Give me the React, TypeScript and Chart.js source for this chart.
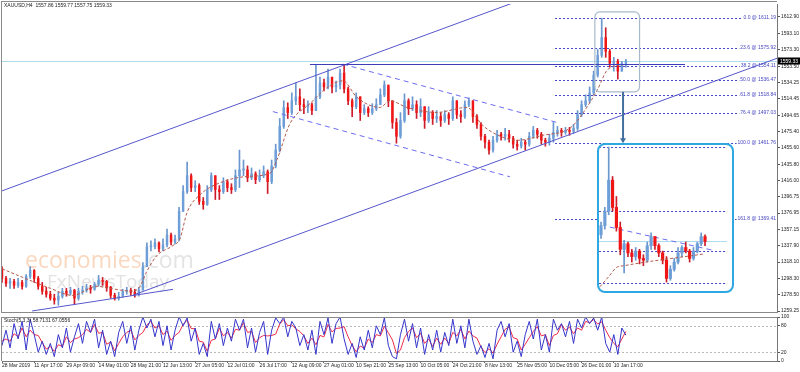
import React, { useEffect, useRef } from 'react';
import { Chart, registerables } from 'chart.js';

Chart.register(...registerables);

// ------------------------------------------------------------------ data
const SYMBOL_HEADER = 'XAUUSD,H4  1557.86 1559.77 1557.75 1559.33';
const STOCH_HEADER = 'Stoch(5,3,3) 58.7131 67.0556';
const WATERMARK = ['economies', '.com', 'FxNewsToday'];

const TIME_LABELS = [
  '28 Mar 2019', '11 Apr 17:00', '29 Apr 09:00', '14 May 01:00', '28 May 21:00',
  '12 Jun 13:00', '27 Jun 05:00', '12 Jul 01:00', '26 Jul 17:00', '12 Aug 09:00',
  '27 Aug 01:00', '10 Sep 21:00', '25 Sep 13:00', '10 Oct 05:00', '24 Oct 21:00',
  '8 Nov 13:00', '25 Nov 05:00', '10 Dec 05:00', '26 Dec 01:00', '10 Jan 17:00',
];
const LABEL_EVERY = 8; // bars between time labels
const X_MAX = 192.55; // visible bar slots

const Y_TICKS = [
  1612.9, 1593.1, 1573.3, 1553.5, 1534.25, 1514.45, 1494.65, 1475.4, 1455.6, 1435.8,
  1416.0, 1396.75, 1376.95, 1357.15, 1337.9, 1318.1, 1298.3, 1278.5, 1259.25,
];
const PRICE_MIN = 1258.06;
const PRICE_MAX = 1628.33;
const LAST_PRICE = 1559.33;

const OPEN0 = 1310;
const CLOSE = [
  1298.4, 1292.5, 1294.8, 1290.1, 1293.6, 1288.9, 1300.8, 1307.9, 1298.4, 1288.9,
  1283.0, 1279.4, 1274.7, 1272.3, 1277.0, 1283.0, 1280.6, 1284.1, 1274.7, 1283.0,
  1284.1, 1286.5, 1285.4, 1291.3, 1296.0, 1294.8, 1287.7, 1278.2, 1274.7, 1277.0,
  1283.0, 1284.1, 1281.8, 1279.4, 1284.1, 1312.6, 1336.4, 1336.4, 1341.1, 1334.0,
  1338.8, 1350.6, 1342.3, 1345.9, 1379.1, 1402.8, 1421.9, 1407.6, 1410.0, 1391.0,
  1387.4, 1405.2, 1421.9, 1405.2, 1402.8, 1414.7, 1407.6, 1405.2, 1421.9, 1428.9,
  1428.9, 1419.5, 1424.2, 1417.1, 1421.9, 1426.6, 1414.7, 1433.7, 1452.7, 1481.2,
  1503.7, 1497.8, 1512.0, 1516.8, 1507.3, 1504.9, 1507.3, 1500.2, 1516.8, 1533.4,
  1528.6, 1540.5, 1528.6, 1531.0, 1545.3, 1526.3, 1512.0, 1504.9, 1516.8, 1497.8,
  1502.5, 1497.8, 1502.5, 1507.3, 1519.1, 1531.0, 1512.0, 1485.9, 1469.3, 1488.3,
  1512.0, 1502.5, 1507.3, 1497.8, 1504.9, 1488.3, 1497.8, 1490.7, 1493.0, 1488.3,
  1495.4, 1490.7, 1512.0, 1495.4, 1493.0, 1507.3, 1512.0, 1493.0, 1483.5, 1469.3,
  1462.2, 1452.7, 1464.6, 1471.7, 1469.3, 1471.7, 1466.9, 1459.8, 1457.4, 1462.2,
  1459.8, 1469.3, 1476.4, 1471.7, 1464.6, 1462.2, 1466.9, 1474.0, 1476.4, 1474.0,
  1476.4, 1475.2, 1478.8, 1495.4, 1507.3, 1512.0, 1521.5, 1542.9, 1566.6, 1588.0,
  1571.4, 1557.1, 1559.5, 1547.6, 1557.1, 1559.33,
];
const HIGH = [
  1312.6, 1300.8, 1298.4, 1297.2, 1298.4, 1296.0, 1303.1, 1312.6, 1309.1, 1300.8,
  1293.6, 1287.7, 1283.0, 1279.4, 1281.8, 1286.5, 1286.5, 1287.7, 1285.4, 1286.5,
  1288.9, 1291.3, 1290.1, 1293.6, 1302.0, 1299.6, 1296.0, 1288.9, 1280.6, 1281.8,
  1285.4, 1287.7, 1286.5, 1285.4, 1287.7, 1317.4, 1341.1, 1343.5, 1345.9, 1342.3,
  1345.9, 1357.7, 1353.0, 1350.6, 1383.8, 1410.0, 1438.4, 1424.2, 1415.9, 1412.3,
  1395.7, 1410.0, 1425.4, 1421.9, 1410.0, 1419.5, 1417.1, 1412.3, 1428.9, 1452.7,
  1440.8, 1433.7, 1431.3, 1426.6, 1428.9, 1433.7, 1428.9, 1440.8, 1459.8, 1490.7,
  1512.0, 1509.6, 1521.5, 1533.4, 1526.3, 1514.4, 1512.0, 1509.6, 1555.9, 1540.5,
  1538.1, 1550.0, 1538.1, 1535.8, 1550.0, 1555.9, 1528.6, 1514.4, 1521.5, 1516.8,
  1507.3, 1504.9, 1508.5, 1514.4, 1526.3, 1535.8, 1528.6, 1512.0, 1490.7, 1497.8,
  1520.3, 1514.4, 1516.8, 1512.0, 1514.4, 1504.9, 1504.9, 1500.2, 1500.2, 1497.8,
  1500.2, 1497.8, 1516.8, 1512.0, 1500.2, 1512.0, 1515.6, 1512.0, 1495.4, 1485.9,
  1471.7, 1464.6, 1469.3, 1476.4, 1474.0, 1478.8, 1476.4, 1469.3, 1464.6, 1466.9,
  1464.6, 1474.0, 1481.2, 1478.8, 1474.0, 1466.9, 1471.7, 1485.9, 1481.2, 1478.8,
  1480.0, 1480.0, 1483.5, 1500.2, 1512.0, 1519.1, 1528.6, 1547.6, 1573.7, 1611.2,
  1599.8, 1573.7, 1564.2, 1561.9, 1559.5, 1561.9,
];
const LOW = [
  1293.6, 1288.9, 1286.5, 1286.5, 1287.7, 1285.4, 1287.7, 1298.4, 1293.6, 1285.4,
  1279.4, 1275.9, 1272.3, 1267.5, 1266.3, 1274.7, 1277.0, 1278.2, 1267.5, 1272.3,
  1279.4, 1281.8, 1280.6, 1284.1, 1288.9, 1290.1, 1283.0, 1274.7, 1272.3, 1272.3,
  1275.9, 1279.4, 1278.2, 1275.9, 1277.0, 1286.5, 1312.6, 1331.6, 1334.0, 1330.4,
  1331.6, 1336.4, 1338.8, 1339.9, 1343.5, 1379.1, 1400.5, 1402.8, 1402.8, 1387.4,
  1381.5, 1386.2, 1402.8, 1393.3, 1393.3, 1400.5, 1402.8, 1400.5, 1402.8, 1407.6,
  1421.9, 1414.7, 1417.1, 1412.3, 1414.7, 1419.5, 1400.5, 1412.3, 1431.3, 1450.3,
  1478.8, 1490.7, 1495.4, 1507.3, 1500.2, 1496.6, 1497.8, 1495.4, 1500.2, 1514.4,
  1523.9, 1526.3, 1521.5, 1522.7, 1526.3, 1521.5, 1507.3, 1493.0, 1502.5, 1488.3,
  1495.4, 1493.0, 1495.4, 1500.2, 1509.6, 1516.8, 1504.9, 1478.8, 1461.0, 1466.9,
  1485.9, 1495.4, 1500.2, 1490.7, 1493.0, 1478.8, 1485.9, 1483.5, 1485.9, 1481.2,
  1485.9, 1483.5, 1488.3, 1490.7, 1485.9, 1490.7, 1504.9, 1485.9, 1478.8, 1464.6,
  1455.1, 1447.9, 1450.3, 1462.2, 1464.6, 1464.6, 1462.2, 1455.1, 1452.7, 1455.1,
  1452.7, 1457.4, 1466.9, 1466.9, 1459.8, 1457.4, 1458.6, 1462.2, 1469.3, 1469.3,
  1471.7, 1470.5, 1472.9, 1476.4, 1493.0, 1504.9, 1509.6, 1519.1, 1540.5, 1564.2,
  1564.2, 1552.4, 1547.6, 1538.1, 1547.6, 1552.4,
];
// moving average: [bar, price]
const MA_POINTS = [
  [0, 1310], [4.5, 1301], [12, 1286.5], [17.6, 1278], [23.6, 1289], [26.8, 1286.5],
  [32.5, 1283], [34.3, 1289], [36, 1307], [38.5, 1326], [42.5, 1338], [44.2, 1346],
  [46, 1378], [49.2, 1399], [54.2, 1413.5], [60.9, 1421], [66.6, 1425], [68.3, 1441],
  [71.6, 1485], [76.5, 1508.5], [80.7, 1527.5], [84.7, 1536], [88.2, 1516], [93.9, 1504],
  [96.4, 1512], [100.6, 1504], [108, 1498], [115.5, 1504], [119.5, 1482], [124.5, 1468],
  [128, 1464.5], [134.4, 1470.5], [141.1, 1479], [144.3, 1497], [147.8, 1524],
  [150.6, 1550], [155.3, 1556],
];

// trend lines: [[bar, price], [bar, price]]
const CHANNEL_UPPER = [[-0.5, 1402.8], [130, 1635.1]];
const CHANNEL_LOWER = [[32.5, 1278.2], [192.55, 1563.1]];
const SUPPORT_SHORT = [[7.5, 1259.3], [42.5, 1285.3]];
const FLAG_UPPER = [[84.7, 1556], [137.9, 1485.9]];
const FLAG_LOWER = [[67.3, 1499], [126.2, 1420.6]];
const RESISTANCE_BARS = [76.5, 169.7];
const RESISTANCE_PRICE = 1556.5;
const FOCUS_BARS = [147.3, 158.4];
const FOCUS_PRICES = [1618.8, 1522.7];
const ARROW_BAR = 154.3;
const ARROW_PRICES = [1522.7, 1461];

const FIB_LEVELS = ['0.0', '23.6', '38.2', '50.0', '61.8', '76.4', '100.0', '161.8'];
const FIB_PRICES = [1611.19, 1575.92, 1554.11, 1536.47, 1518.84, 1497.03, 1461.76, 1369.41];
const FIB_START_BAR = 137.4;

const STOCH_TICKS = [0, 20, 80, 100];
const STOCH_LEVELS = [20, 80];
const STOCH_K = [
  35, 70, 30, 85, 50, 90, 25, 95, 60, 20, 45, 15, 40, 10, 60, 30, 75, 20, 55, 85,
  40, 90, 65, 95, 30, 70, 15, 45, 10, 65, 90, 40, 80, 25, 70, 100, 75, 95, 55, 90,
  35, 80, 25, 70, 100, 80, 98, 45, 75, 15, 40, 10, 90, 50, 85, 35, 75, 45, 95, 70,
  95, 30, 75, 20, 65, 90, 15, 70, 98, 85, 100, 55, 90, 75, 35, 60, 25, 70, 15, 90,
  60, 98, 40, 85, 100, 50, 15, 40, 8, 55, 25, 70, 30, 80, 60, 98, 35, 10, 5, 60,
  95, 45, 85, 30, 75, 15, 60, 25, 70, 20, 65, 35, 95, 40, 80, 30, 95, 45, 15, 35,
  8, 40, 5, 70, 90, 55, 85, 20, 45, 10, 60, 90, 50, 95, 25, 60, 20, 95, 70, 85,
  55, 90, 40, 95, 75, 100, 85, 98, 70, 100, 40, 20, 60, 15, 75, 58.71,
];
const STOCH_D = [
  45, 50, 45, 62, 55, 75, 55, 70, 60, 58, 42, 27, 33, 22, 37, 33, 55, 42, 50, 53,
  60, 72, 65, 83, 63, 65, 38, 43, 23, 40, 55, 65, 70, 48, 58, 65, 82, 90, 75, 80,
  60, 68, 47, 58, 65, 83, 93, 74, 73, 45, 43, 22, 47, 50, 75, 57, 65, 52, 72, 70,
  87, 65, 67, 42, 53, 58, 57, 58, 61, 84, 94, 80, 82, 73, 67, 57, 40, 52, 37, 58,
  55, 83, 66, 74, 75, 78, 55, 35, 21, 34, 29, 50, 42, 60, 57, 79, 64, 48, 17, 25,
  53, 67, 75, 53, 63, 40, 50, 33, 52, 38, 52, 40, 65, 57, 72, 50, 68, 57, 52, 32,
  19, 28, 18, 38, 55, 72, 77, 53, 50, 25, 38, 53, 67, 78, 57, 60, 35, 58, 62, 83,
  70, 77, 62, 75, 70, 90, 87, 94, 84, 89, 70, 53, 40, 32, 50, 67.06,
];

// zoomed inset (last bars, finer resolution)
const INSET_OPEN0 = 1563;
const INSET_CLOSE = [1568, 1576, 1593, 1578, 1567, 1555, 1558, 1553, 1551, 1554, 1550, 1549, 1557, 1562, 1557, 1553, 1549, 1539, 1544, 1548, 1553, 1556, 1554, 1550, 1554, 1558, 1562, 1559.33];
const INSET_HIGH = [1570, 1578, 1611.2, 1595, 1584, 1570, 1560, 1559, 1555, 1556, 1555, 1552, 1559, 1564, 1562, 1558, 1554, 1551, 1546, 1550, 1556, 1557, 1559, 1555, 1556, 1559, 1564, 1563];
const INSET_LOW = [1561, 1566, 1574, 1576, 1565, 1552, 1542, 1551, 1548, 1549, 1547, 1546, 1548, 1555, 1555, 1551, 1547, 1537, 1538, 1543, 1547, 1551, 1553, 1548, 1549, 1553, 1557, 1557];
const INSET_MA = [[-0.3, 1534.4], [2, 1540], [4, 1545], [6, 1546], [26.5, 1552.4]];
const INSET_TRI_UPPER = [[2.3, 1567.2], [28.8, 1554.6]];
const INSET_X = [-0.52, 34.0];
const INSET_Y = [1532.1, 1612.3];
const INSET_LINE_BARS = [-0.5, 32.7];
const INSET_FIB_COUNT = 4;

// ------------------------------------------------------------------ styles
const FONT = '"Liberation Sans", Arial, sans-serif';
const BULL = '#6d9ed8';
const BEAR = '#f01616';
const BULL_WICK = '#6a97cf';
const BEAR_WICK = '#cc1c2a';
const MA_COLOR = '#b35a4a';
const CHANNEL_COLOR = '#5656cc';
const FLAG_COLOR = '#6c6cf0';
const FIB_COLOR = '#4646c4';
const CYAN = '#aedcee';

function candleSets(open0: number, close: number[], high: number[], low: number[], body: number) {
  const opens = close.map((_, i) => (i === 0 ? open0 : close[i - 1]));
  const up = close.map((c, i) => c >= opens[i]);
  return [
    {
      type: 'bar',
      data: close.map((_, i) => ({ x: i, y: [low[i], high[i]] })),
      backgroundColor: up.map((u) => (u ? BULL_WICK : BEAR_WICK)),
      barThickness: 1,
      minBarLength: 1,
      grouped: false,
      order: 3,
    },
    {
      type: 'bar',
      data: close.map((c, i) => ({ x: i, y: [opens[i], c] })),
      backgroundColor: up.map((u) => (u ? BULL : BEAR)),
      barThickness: body,
      minBarLength: 1,
      grouped: false,
      order: 2,
    },
  ];
}

function seg(ctx: CanvasRenderingContext2D, x1: number, y1: number, x2: number, y2: number, color: string, width = 1, dash: number[] = []) {
  ctx.save();
  ctx.strokeStyle = color;
  ctx.lineWidth = width;
  ctx.setLineDash(dash);
  ctx.beginPath();
  ctx.moveTo(x1, y1);
  ctx.lineTo(x2, y2);
  ctx.stroke();
  ctx.restore();
}
const crisp = (v: number) => Math.round(v) + 0.5;

const mainOverlay = {
  id: 'mainOverlay',
  beforeDatasetsDraw(chart: any) {
    const { ctx, chartArea: a, scales } = chart;
    const y = scales.y;
    ctx.save();
    ctx.beginPath();
    ctx.rect(a.left, a.top, a.right - a.left, a.bottom - a.top);
    ctx.clip();
    // watermark
    ctx.textAlign = 'left';
    ctx.textBaseline = 'alphabetic';
    ctx.font = '23px "Open Sans"';
    ctx.fillStyle = '#fad8c0';
    ctx.fillText(WATERMARK[0], a.left + 23, 268);
    const w = ctx.measureText(WATERMARK[0]).width;
    ctx.fillStyle = '#e4e4e4';
    ctx.fillText(WATERMARK[1], a.left + 23 + w, 268);
    ctx.font = '19px "Open Sans"';
    ctx.fillStyle = '#e2e2e2';
    ctx.fillText(WATERMARK[2], a.left + 45, 288);
    // bid line
    const yy = crisp(y.getPixelForValue(LAST_PRICE));
    seg(ctx, a.left, yy, a.right, yy, CYAN, 1);
    ctx.restore();
  },
  afterDatasetsDraw(chart: any) {
    const { ctx, chartArea: a, scales } = chart;
    const px = (v: number) => scales.x.getPixelForValue(v);
    const py = (v: number) => scales.y.getPixelForValue(v);
    ctx.save();
    ctx.beginPath();
    ctx.rect(a.left, a.top, a.right - a.left, a.bottom - a.top);
    ctx.clip();
    for (const ln of [CHANNEL_UPPER, CHANNEL_LOWER, SUPPORT_SHORT]) {
      seg(ctx, px(ln[0][0]), py(ln[0][1]), px(ln[1][0]), py(ln[1][1]), CHANNEL_COLOR, 1);
    }
    for (const ln of [FLAG_UPPER, FLAG_LOWER]) {
      seg(ctx, px(ln[0][0]), py(ln[0][1]), px(ln[1][0]), py(ln[1][1]), FLAG_COLOR, 1, [5, 4]);
    }
    const ry = crisp(py(RESISTANCE_PRICE));
    seg(ctx, px(RESISTANCE_BARS[0]), ry, px(RESISTANCE_BARS[1]), ry, '#3e3eba', 1);
    // fibonacci
    ctx.font = `5px ${FONT}`;
    FIB_LEVELS.forEach((lvl, k) => {
      const label = `${lvl} @ ${FIB_PRICES[k].toFixed(2)}`;
      const fy = crisp(py(FIB_PRICES[k]));
      const tw = ctx.measureText(label).width;
      seg(ctx, px(FIB_START_BAR), fy, a.right - 2 - tw, fy, FIB_COLOR, 1, [2, 2]);
      ctx.fillStyle = FIB_COLOR;
      ctx.textAlign = 'right';
      ctx.textBaseline = 'middle';
      ctx.fillText(label, a.right - 1, fy - 1);
    });
    // focus box
    const bx1 = px(FOCUS_BARS[0]), bx2 = px(FOCUS_BARS[1]);
    const by1 = py(FOCUS_PRICES[0]), by2 = py(FOCUS_PRICES[1]);
    ctx.strokeStyle = '#a6bacb';
    ctx.lineWidth = 1.2;
    ctx.beginPath();
    (ctx as any).roundRect(bx1, by1, bx2 - bx1, by2 - by1, 5);
    ctx.stroke();
    // arrow
    const ax = px(ARROW_BAR);
    const ay1 = py(ARROW_PRICES[0]), ay2 = py(ARROW_PRICES[1]);
    seg(ctx, ax, ay1, ax, ay2 - 4, '#41709f', 2);
    ctx.fillStyle = '#41709f';
    ctx.beginPath();
    ctx.moveTo(ax - 3, ay2 - 5);
    ctx.lineTo(ax + 3, ay2 - 5);
    ctx.lineTo(ax, ay2);
    ctx.closePath();
    ctx.fill();
    ctx.restore();
  },
  afterDraw(chart: any) {
    const { ctx, chartArea: a, scales, width } = chart;
    const y = scales.y;
    ctx.save();
    // frame
    seg(ctx, 1.5, 1, 1.5, a.bottom + 1, '#8a8a8a', 1);
    seg(ctx, 1, 1.5, a.right, 1.5, '#8a8a8a', 1);
    seg(ctx, 1, a.bottom + 0.5, a.right + 1, a.bottom + 0.5, '#8a8a8a', 1);
    // header
    ctx.font = `5px ${FONT}`;
    ctx.fillStyle = '#222';
    ctx.textAlign = 'left';
    ctx.textBaseline = 'middle';
    ctx.fillText(SYMBOL_HEADER, 4, 6);
    // last price tag
    const yy = y.getPixelForValue(LAST_PRICE);
    ctx.fillStyle = '#000';
    ctx.fillRect(y.left + 1, Math.round(yy) - 3.5, width - y.left - 1, 7);
    ctx.fillStyle = '#fff';
    ctx.fillText(LAST_PRICE.toFixed(2), y.left + 3, yy);
    ctx.restore();
  },
};

const stochOverlay = {
  id: 'stochOverlay',
  beforeDatasetsDraw(chart: any) {
    const { ctx, chartArea: a, scales } = chart;
    for (const lv of STOCH_LEVELS) {
      const yy = crisp(scales.y.getPixelForValue(lv));
      seg(ctx, a.left, yy, a.right, yy, '#b9b9b9', 1, [2, 2]);
    }
  },
  afterDraw(chart: any) {
    const { ctx, chartArea: a } = chart;
    ctx.save();
    seg(ctx, 1, a.top + 0.5, a.right, a.top + 0.5, '#8a8a8a', 1);
    seg(ctx, 1.5, a.top, 1.5, a.bottom, '#8a8a8a', 1);
    ctx.font = `5px ${FONT}`;
    ctx.fillStyle = '#222';
    ctx.textAlign = 'left';
    ctx.textBaseline = 'middle';
    ctx.fillText(STOCH_HEADER, 4, a.top + 4);
    ctx.restore();
  },
};

const insetOverlay = {
  id: 'insetOverlay',
  beforeDatasetsDraw(chart: any) {
    const { ctx, scales } = chart;
    const px = (v: number) => scales.x.getPixelForValue(v);
    const py = (v: number) => scales.y.getPixelForValue(v);
    const x1 = px(INSET_LINE_BARS[0]), x2 = px(INSET_LINE_BARS[1]);
    for (let k = 0; k < INSET_FIB_COUNT; k++) {
      const yy = crisp(py(FIB_PRICES[k]));
      seg(ctx, x1, yy, x2, yy, FIB_COLOR, 1, [2, 2]);
    }
    const cy = crisp(py(LAST_PRICE));
    seg(ctx, x1, cy, x2, cy, CYAN, 1);
    const t = INSET_TRI_UPPER;
    seg(ctx, px(t[0][0]), py(t[0][1]), px(t[1][0]), py(t[1][1]), FLAG_COLOR, 1, [5, 4]);
  },
};

export default function App() {
  const mainRef = useRef<HTMLCanvasElement>(null);
  const stochRef = useRef<HTMLCanvasElement>(null);
  const insetRef = useRef<HTMLCanvasElement>(null);

  useEffect(() => {
    Chart.defaults.font.family = FONT;
    const charts: Chart[] = [];

    charts.push(
      new Chart(mainRef.current as HTMLCanvasElement, {
        type: 'bar',
        data: {
          datasets: [
            ...(candleSets(OPEN0, CLOSE, HIGH, LOW, 1.8) as any[]),
            {
              type: 'line',
              data: MA_POINTS.map(([b, p]) => ({ x: b, y: p })),
              borderColor: MA_COLOR,
              borderWidth: 1,
              borderDash: [3, 2],
              pointRadius: 0,
              cubicInterpolationMode: 'monotone',
              order: 1,
            } as any,
          ],
        },
        options: {
          animation: false,
          responsive: false,
          events: [],
          layout: { padding: { left: 2, top: 2, right: 0, bottom: 2 } },
          plugins: { legend: { display: false }, tooltip: { enabled: false } },
          scales: {
            x: { type: 'linear', min: 0, max: X_MAX, display: false, offset: false },
            y: {
              type: 'linear',
              position: 'right',
              min: PRICE_MIN,
              max: PRICE_MAX,
              afterFit: (s: any) => { s.width = 23; },
              afterBuildTicks: (s: any) => { s.ticks = Y_TICKS.map((v) => ({ value: v })); },
              ticks: {
                callback: (v: any) => Number(v).toFixed(2),
                font: { size: 5 },
                color: '#222',
                padding: 1,
                autoSkip: false,
              },
              grid: { drawOnChartArea: false, drawTicks: true, tickLength: 3, color: '#555' },
              border: { display: true, color: '#777' },
            },
          },
        } as any,
        plugins: [mainOverlay],
      })
    );

    charts.push(
      new Chart(stochRef.current as HTMLCanvasElement, {
        type: 'line',
        data: {
          datasets: [
            {
              data: STOCH_K.map((v, i) => ({ x: i, y: v })),
              borderColor: '#3535cc',
              borderWidth: 1,
              pointRadius: 0,
            },
            {
              data: STOCH_D.map((v, i) => ({ x: i, y: v })),
              borderColor: '#ee2c48',
              borderWidth: 1,
              pointRadius: 0,
            },
          ],
        },
        options: {
          animation: false,
          responsive: false,
          events: [],
          layout: { padding: { left: 2, top: 3, right: 0, bottom: 0 } },
          plugins: { legend: { display: false }, tooltip: { enabled: false } },
          scales: {
            x: {
              type: 'linear',
              min: 0,
              max: X_MAX,
              afterFit: (s: any) => { s.height = 11; },
              afterBuildTicks: (s: any) => { s.ticks = TIME_LABELS.map((_, k) => ({ value: k * LABEL_EVERY })); },
              ticks: {
                callback: (_v: any, i: number) => TIME_LABELS[i],
                align: 'start',
                maxRotation: 0,
                autoSkip: false,
                font: { size: 5 },
                color: '#222',
                padding: 0,
              },
              grid: { drawOnChartArea: false, drawTicks: true, tickLength: 2, color: '#666' },
              border: { display: true, color: '#777' },
            },
            y: {
              position: 'right',
              min: 0,
              max: 100,
              afterFit: (s: any) => { s.width = 23; },
              afterBuildTicks: (s: any) => { s.ticks = STOCH_TICKS.map((v) => ({ value: v })); },
              ticks: { font: { size: 5 }, color: '#222', padding: 1, autoSkip: false },
              grid: { drawOnChartArea: false, drawTicks: true, tickLength: 3, color: '#555' },
              border: { display: true, color: '#777' },
            },
          },
        } as any,
        plugins: [stochOverlay],
      })
    );

    charts.push(
      new Chart(insetRef.current as HTMLCanvasElement, {
        type: 'bar',
        data: {
          datasets: [
            ...(candleSets(INSET_OPEN0, INSET_CLOSE, INSET_HIGH, INSET_LOW, 2.5) as any[]),
            {
              type: 'line',
              data: INSET_MA.map(([b, p]) => ({ x: b, y: p })),
              borderColor: MA_COLOR,
              borderWidth: 1,
              borderDash: [3, 2],
              pointRadius: 0,
              cubicInterpolationMode: 'monotone',
              order: 1,
            } as any,
          ],
        },
        options: {
          animation: false,
          responsive: false,
          events: [],
          layout: { padding: 0 },
          plugins: { legend: { display: false }, tooltip: { enabled: false } },
          scales: {
            x: { type: 'linear', min: INSET_X[0], max: INSET_X[1], display: false, offset: false },
            y: { type: 'linear', min: INSET_Y[0], max: INSET_Y[1], display: false },
          },
        } as any,
        plugins: [insetOverlay],
      })
    );

    return () => charts.forEach((c) => c.destroy());
  }, []);

  return (
    <div style={{ position: 'fixed', left: 0, top: 0, width: 800, height: 372, background: '#fff', overflow: 'hidden' }}>
      <canvas ref={mainRef} width={800} height={316} style={{ position: 'absolute', left: 0, top: 0 }} />
      <canvas ref={stochRef} width={800} height={59} style={{ position: 'absolute', left: 0, top: 313 }} />
      <div
        style={{
          position: 'absolute',
          left: 597,
          top: 143,
          width: 137,
          height: 150,
          boxSizing: 'border-box',
          border: '2px solid #2da8e2',
          borderRadius: 8,
          background: '#fff',
          overflow: 'hidden',
        }}
      >
        <canvas ref={insetRef} width={133} height={146} style={{ display: 'block' }} />
      </div>
    </div>
  );
}
